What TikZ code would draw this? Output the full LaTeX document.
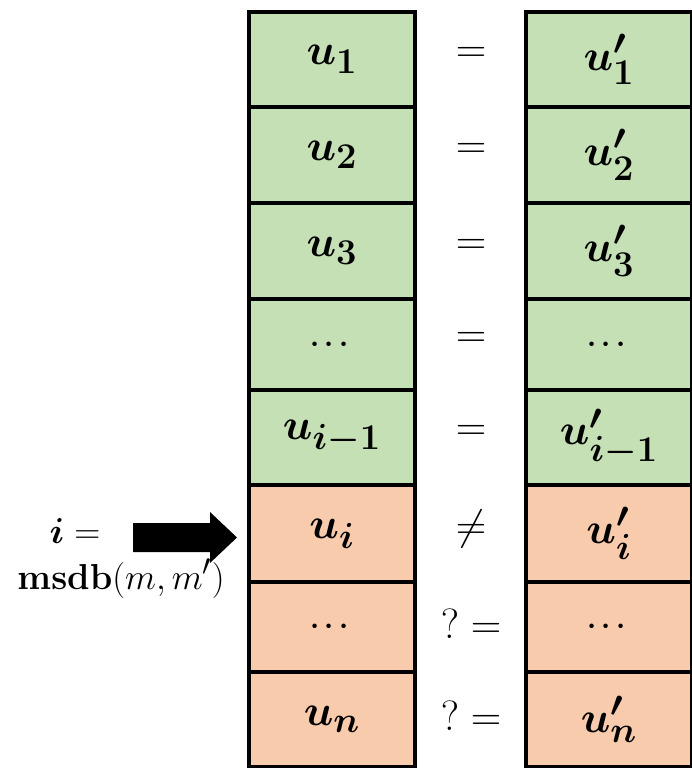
\documentclass[tikz,border=0pt]{standalone}
\usepackage{graphicx}
\usepackage{amsmath,bm}
\definecolor{cellgreen}{HTML}{C5E0B4}
\definecolor{cellorange}{HTML}{F8CBAD}
\newcommand{\celltxt}[1]{\scalebox{1.75}{\Huge #1}}
\newcommand{\dotstxt}{\scalebox{1.15}{\Huge $\bm{\cdots}$}}
\newcommand{\reltxt}[1]{\scalebox{1.7}{\Huge #1}}
\newcommand{\labtxt}[1]{\scalebox{1.45}{\Huge #1}}
\begin{document}
\begin{tikzpicture}[x=1pt,y=-1pt,
  cell/.style={draw=black,line width=3.2pt,minimum width=166pt,inner sep=0pt},
  gcell/.style={cell,fill=cellgreen},
  ocell/.style={cell,fill=cellorange},
  rel/.style={inner sep=0pt},
  lab/.style={inner sep=0pt,anchor=base}]
\useasboundingbox (0,0) rectangle (692,768);
% left column
\node[gcell,minimum height=95pt] (a1) at (332,59.5) {\celltxt{$\bm{u_1}$}};
\node[gcell,minimum height=96pt] (a2) at (332,155) {\celltxt{$\bm{u_2}$}};
\node[gcell,minimum height=96pt] (a3) at (332,251) {\celltxt{$\bm{u_3}$}};
\node[gcell,minimum height=91pt] (a4) at (332,344.5) {\dotstxt};
\node[gcell,minimum height=95pt] (a5) at (332,437.5) {\celltxt{$\bm{u_{i-1}}$}};
\node[ocell,minimum height=97pt] (a6) at (332,533.5) {\celltxt{$\bm{u_i}$}};
\node[ocell,minimum height=90pt] (a7) at (332,627) {\dotstxt};
\node[ocell,minimum height=95pt] (a8) at (332,719.5) {\celltxt{$\bm{u_n}$}};
% right column
\node[gcell,minimum height=95pt] (b1) at (609,59.5) {\celltxt{$\bm{u'_1}$}};
\node[gcell,minimum height=96pt] (b2) at (609,155) {\celltxt{$\bm{u'_2}$}};
\node[gcell,minimum height=96pt] (b3) at (609,251) {\celltxt{$\bm{u'_3}$}};
\node[gcell,minimum height=91pt] (b4) at (609,344.5) {\dotstxt};
\node[gcell,minimum height=95pt] (b5) at (609,437.5) {\celltxt{$\bm{u'_{i-1}}$}};
\node[ocell,minimum height=97pt] (b6) at (609,533.5) {\celltxt{$\bm{u'_i}$}};
\node[ocell,minimum height=90pt] (b7) at (609,627) {\dotstxt};
\node[ocell,minimum height=95pt] (b8) at (609,719.5) {\celltxt{$\bm{u'_n}$}};
% relations
\node[rel] (r1) at (471,55) {\reltxt{$=$}};
\node[rel] (r2) at (471,151) {\reltxt{$=$}};
\node[rel] (r3) at (471,247) {\reltxt{$=$}};
\node[rel] (r4) at (471,340) {\reltxt{$=$}};
\node[rel] (r5) at (471,433) {\reltxt{$=$}};
\node[rel] (r6) at (471,529) {\reltxt{$\neq$}};
\node[rel] (r7) at (471,624) {\reltxt{$?=$}};
\node[rel] (r8) at (471,716) {\reltxt{$?=$}};
% left label and arrow
\node[lab] (li) at (75,543) {\labtxt{$\bm{i} =$}};
\node[lab] (lm) at (121,589) {\labtxt{$\mathbf{msdb}(m,m')$}};
\fill[black] (133,523) -- (210,523) -- (210,512) -- (237,537.5) -- (210,563)
  -- (210,552) -- (133,552) -- cycle;
\end{tikzpicture}
\end{document}
